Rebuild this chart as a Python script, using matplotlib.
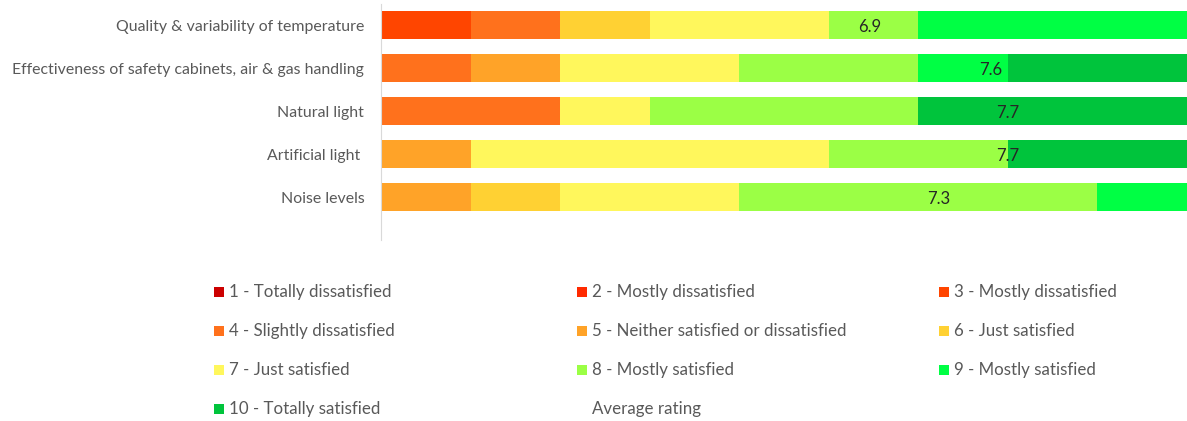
import matplotlib.pyplot as plt
import numpy as np
from matplotlib.patches import Rectangle

plt.rcParams['font.family'] = ['Lato', 'DejaVu Sans']

categories = ['Quality & variability of temperature',
              'Effectiveness of safety cabinets, air & gas handling',
              'Natural light',
              'Artificial light ',
              'Noise levels']

ratings = ['1 - Totally dissatisfied', '2 - Mostly dissatisfied', '3 - Mostly dissatisfied',
           '4 - Slightly dissatisfied', '5 - Neither satisfied or dissatisfied', '6 - Just satisfied',
           '7 - Just satisfied', '8 - Mostly satisfied', '9 - Mostly satisfied',
           '10 - Totally satisfied']

colors = ['#CC0000', '#FF2A00', '#FF4500', '#FF711C', '#FFA328',
          '#FFD133', '#FFF75C', '#9BFF45', '#00FF44', '#00C43C']

# number of responses per rating (columns 1..10) for each category
counts = np.array([
    [0, 0, 1, 1, 0, 1, 2, 1, 3, 0],
    [0, 0, 0, 1, 1, 0, 2, 2, 1, 2],
    [0, 0, 0, 2, 0, 0, 1, 3, 0, 3],
    [0, 0, 0, 0, 1, 0, 4, 2, 0, 2],
    [0, 0, 0, 0, 1, 1, 2, 4, 1, 0],
])

avg_rating = [6.9, 7.6, 7.7, 7.7, 7.3]

W, H = 1187, 421
fig = plt.figure(figsize=(W / 100, H / 100), dpi=100)
ax = fig.add_axes([381 / W, 1 - 240 / H, 806 / W, 236 / H])

ypos = np.arange(len(categories))
left = np.zeros(len(categories))
for j in range(len(ratings)):
    ax.barh(ypos, counts[:, j], left=left, height=0.65, color=colors[j], linewidth=0)
    left += counts[:, j]

ax.set_xlim(0, counts.sum(axis=1).max())
ax.set_ylim(5.0, -0.49)
ax.set_yticks(ypos)
ax.set_yticklabels(categories, fontsize=11.4, color='#595959')
ax.tick_params(axis='y', length=0, pad=12)
ax.set_xticks([])
for s in ['top', 'right', 'bottom']:
    ax.spines[s].set_visible(False)
ax.spines['left'].set_color('#D9D9D9')

# average rating series on a hidden secondary axis
ax2 = ax.twiny()
ax2.set_xlim(4.07, 8.74)
ax2.set_ylim(ax.get_ylim())
ax2.axis('off')
ax2.scatter(avg_rating, ypos, s=0)
for v, y in zip(avg_rating, ypos):
    ax2.text(v, y + 0.04, f'{v:.1f}', ha='center', va='center', fontsize=12, color='#262626')

# legend, three columns in row order
entries = list(zip(ratings, colors)) + [('Average rating', None)]
for i, (label, c) in enumerate(entries):
    r, col = divmod(i, 3)
    x0 = 214 + 362.5 * col
    yc = 292 + 39 * r
    if c is not None:
        fig.add_artist(Rectangle((x0 / W, 1 - (yc + 5) / H), 10 / W, 10 / H,
                                 transform=fig.transFigure, color=c, linewidth=0))
    fig.text((x0 + 15) / W, 1 - yc / H, label, ha='left', va='center',
             fontsize=12.2, color='#595959')

fig.savefig('out.png', dpi=100)
